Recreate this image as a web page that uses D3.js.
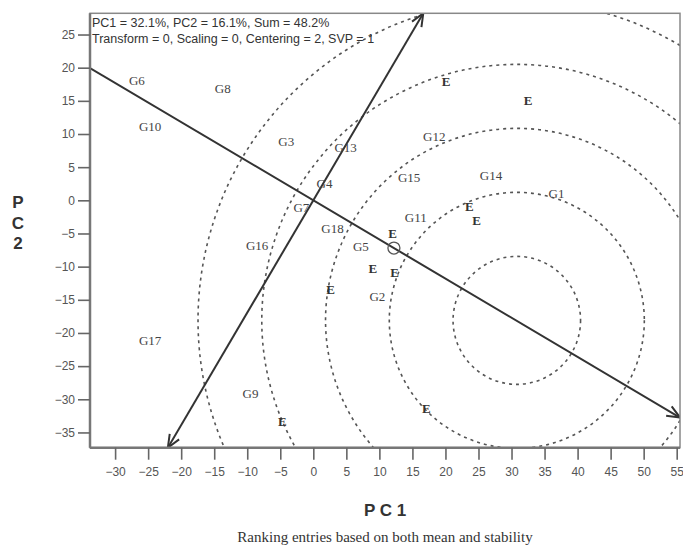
<!DOCTYPE html>
<html>
<head>
<meta charset="utf-8">
<script src="https://cdn.jsdelivr.net/npm/d3@7"></script>
<style>
    body { margin: 0; background: #fff; }
    svg { display: block; }
    .tick-label { font-family: Arial, "Liberation Sans", sans-serif; font-size: 12px; fill: #555; }
    .gen { font-family: "Liberation Serif", "Times New Roman", serif; font-size: 13px; fill: #444; }
    .env { font-family: "Liberation Serif", "Times New Roman", serif; font-size: 13px; font-weight: bold; fill: #333; }
    .ring { fill: none; stroke: #555; stroke-width: 1.6; stroke-dasharray: 3,4; }
    .axis-line { stroke: #333; stroke-width: 2; fill: none; }
</style>
</head>
<body>
<svg id="biplot"></svg>
<script>
// genotype scores
const genNames = ["G1", "G2", "G3", "G4", "G5", "G6", "G7", "G8", "G9", "G10",
    "G11", "G12", "G13", "G14", "G15", "G16", "G17", "G18"];
const genPC1 = [36.8, 9.7, -4.1, 1.7, 7.2, -26.7, -1.8, -13.7, -9.5, -24.7,
    15.5, 18.3, 4.9, 26.9, 14.5, -8.5, -24.7, 2.9];
const genPC2 = [1.0, -14.5, 8.9, 2.6, -6.9, 18.1, -1.0, 16.9, -29.1, 11.1,
    -2.6, 9.6, 8.0, 3.8, 3.5, -6.8, -21.1, -4.2];

// environment scores
const envPC1 = [20.1, 32.5, 23.6, 24.7, 12.0, 9.0, 12.3, 2.6, 17.1, -4.7];
const envPC2 = [17.9, 15.1, -0.9, -3.1, -5.0, -10.3, -10.8, -13.5, -31.4, -33.4];

// average environment, ideal entry and the rings round it
const avgEnv = [12.2, -7.2];
const idealEntry = [30.8, -18.1];
const ringRadii = [9.65, 19.3, 28.95, 38.6, 48.25];

const xTicks = d3.range(-30, 56, 5);
const yTicks = d3.range(-35, 26, 5);
const header = ["PC1 = 32.1%, PC2 = 16.1%, Sum = 48.2%",
    "Transform = 0, Scaling = 0, Centering = 2, SVP = 1"];

function drawChart() {
    const width = 683, height = 547;
    const svg = d3.select("#biplot").attr("width", width).attr("height", height);

    const x = d3.scaleLinear().domain([-33.8, 55.5]).range([90, 680]);
    const y = d3.scaleLinear().domain([-37.3, 28.2]).range([447.7, 13.3]);
    const [x0, x1] = x.range();
    const [y1, y0] = y.range();

    svg.append("defs").append("clipPath").attr("id", "plot-clip")
        .append("rect")
        .attr("x", x0).attr("y", y0)
        .attr("width", x1 - x0).attr("height", y1 - y0);

    const plot = svg.append("g").attr("clip-path", "url(#plot-clip)");

    // concentric rings
    plot.selectAll("ellipse.ring")
        .data(ringRadii)
        .enter().append("ellipse")
        .attr("class", "ring")
        .attr("cx", x(idealEntry[0]))
        .attr("cy", y(idealEntry[1]))
        .attr("rx", r => x(r) - x(0))
        .attr("ry", r => y(0) - y(r));

    // AEC abscissa and ordinate through the origin
    const slope = avgEnv[1] / avgEnv[0];
    const xd = x.domain(), yd = y.domain();
    const abscissa = [[xd[0], slope * xd[0]], [xd[1], slope * xd[1]]];
    const ordinate = [[yd[1] * slope * -1, yd[1]], [yd[0] * slope * -1, yd[0]]];

    const line = d3.line().x(d => x(d[0])).y(d => y(d[1]));
    plot.append("path").attr("class", "axis-line").attr("d", line(abscissa));
    plot.append("path").attr("class", "axis-line").attr("d", line(ordinate));

    // open arrow heads
    const heads = [[abscissa[0], abscissa[1]], [ordinate[1], ordinate[0]], [ordinate[0], ordinate[1]]];
    heads.forEach(([from, to]) => {
        const tx = x(to[0]), ty = y(to[1]);
        const ang = Math.atan2(ty - y(from[1]), tx - x(from[0]));
        const len = 14, spread = 0.4;
        const a = [tx - len * Math.cos(ang - spread), ty - len * Math.sin(ang - spread)];
        const b = [tx - len * Math.cos(ang + spread), ty - len * Math.sin(ang + spread)];
        plot.append("path")
            .attr("class", "axis-line")
            .attr("stroke-width", 1.8)
            .attr("d", `M${a[0]},${a[1]}L${tx},${ty}L${b[0]},${b[1]}`);
    });

    // small circle on the average environment
    plot.append("circle")
        .attr("cx", x(avgEnv[0])).attr("cy", y(avgEnv[1]))
        .attr("r", 6)
        .attr("fill", "none").attr("stroke", "#555").attr("stroke-width", 1.3);

    // genotype labels
    plot.selectAll("text.gen")
        .data(genNames)
        .enter().append("text")
        .attr("class", "gen")
        .attr("x", (d, i) => x(genPC1[i]))
        .attr("y", (d, i) => y(genPC2[i]))
        .attr("dy", "0.35em")
        .attr("text-anchor", "middle")
        .text(d => d);

    // environment labels
    plot.selectAll("text.env")
        .data(envPC1)
        .enter().append("text")
        .attr("class", "env")
        .attr("x", d => x(d))
        .attr("y", (d, i) => y(envPC2[i]))
        .attr("dy", "0.35em")
        .attr("text-anchor", "middle")
        .text("E");

    // frame
    svg.append("rect")
        .attr("x", x0).attr("y", y0)
        .attr("width", x1 - x0).attr("height", y1 - y0)
        .attr("fill", "none").attr("stroke", "#888").attr("stroke-width", 1.5);

    const xAxis = svg.append("g")
        .attr("transform", `translate(0,${y1})`)
        .call(d3.axisBottom(x).tickValues(xTicks).tickSize(12).tickPadding(8));
    const yAxis = svg.append("g")
        .attr("transform", `translate(${x0},0)`)
        .call(d3.axisLeft(y).tickValues(yTicks).tickSize(12).tickPadding(3));

    [xAxis, yAxis].forEach(ax => {
        ax.select(".domain").attr("stroke", "#777").attr("stroke-width", 2.5);
        ax.selectAll(".tick line").attr("stroke", "#666").attr("stroke-width", 1.6);
        ax.selectAll(".tick text").attr("class", "tick-label").attr("font-size", null).attr("font-family", null);
    });
    xAxis.select(".domain").attr("d", `M${x0},0H${x1}`);
    yAxis.select(".domain").attr("d", `M0,${y0}V${y1}`);

    // header inside the plot
    svg.selectAll("text.header")
        .data(header)
        .enter().append("text")
        .attr("x", 92)
        .attr("y", (d, i) => 27 + i * 16)
        .attr("font-family", "Arial, 'Liberation Sans', sans-serif")
        .attr("font-size", "12.5px")
        .attr("fill", "#333")
        .text(d => d);

    // axis titles
    svg.append("text")
        .attr("x", 385).attr("y", 516)
        .attr("text-anchor", "middle")
        .attr("font-family", "Arial, 'Liberation Sans', sans-serif")
        .attr("font-size", "17px").attr("font-weight", "bold").attr("fill", "#333")
        .text("P C 1");

    svg.append("g").selectAll("text")
        .data(["P", "C", "2"])
        .enter().append("text")
        .attr("x", 18)
        .attr("y", (d, i) => 208 + i * 20.5)
        .attr("text-anchor", "middle")
        .attr("font-family", "Arial, 'Liberation Sans', sans-serif")
        .attr("font-size", "17px").attr("font-weight", "bold").attr("fill", "#333")
        .text(d => d);

    svg.append("text")
        .attr("x", 385).attr("y", 542)
        .attr("text-anchor", "middle")
        .attr("font-family", "'Liberation Serif', 'Times New Roman', serif")
        .attr("font-size", "15px").attr("fill", "#333")
        .text("Ranking entries based on both mean and stability");
}

drawChart();
</script>
</body>
</html>
